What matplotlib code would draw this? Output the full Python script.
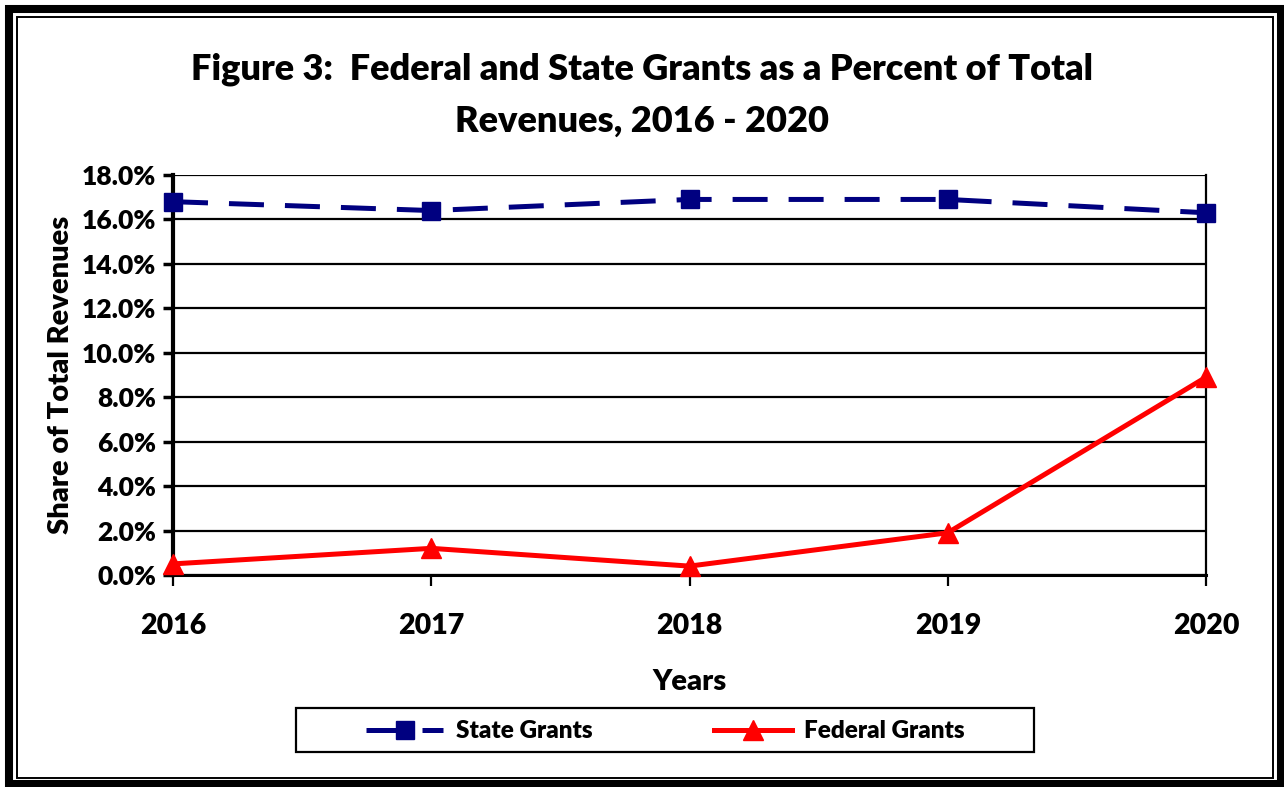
import matplotlib
matplotlib.use("Agg")
import matplotlib.pyplot as plt
from matplotlib.patches import Rectangle
from matplotlib.ticker import FuncFormatter, MultipleLocator

years = [2016, 2017, 2018, 2019, 2020]
state_grants = [16.8, 16.4, 16.9, 16.9, 16.3]
federal_grants = [0.5, 1.2, 0.4, 1.9, 8.9]
title = "Figure 3:  Federal and State Grants as a Percent of Total\nRevenues, 2016 - 2020"
xlabel = "Years"
ylabel = "Share of Total Revenues"

plt.rcParams['font.family'] = ['Lato', 'DejaVu Sans']
plt.rcParams['font.weight'] = 'bold'

W, H = 1284, 787
fig = plt.figure(figsize=(W / 100, H / 100), dpi=100)
fig.patch.set_facecolor('white')

def fx(px):
    return px / W

def fy(py):
    return 1 - py / H

ax = fig.add_axes([fx(173), fy(575), fx(1206) - fx(173), fy(175) - fy(575)])

ax.plot(years, state_grants, color='#000080', lw=3.6, dashes=(7.0, 4.2),
        marker='s', ms=13.5, label='State Grants', clip_on=False, zorder=4)
ax.plot(years, federal_grants, color='#FF0000', lw=3.6,
        marker='^', ms=15, label='Federal Grants', clip_on=False, zorder=4)

ax.set_xlim(2016, 2020)
ax.set_ylim(0, 18)
ax.yaxis.set_major_locator(MultipleLocator(2))
ax.yaxis.set_major_formatter(FuncFormatter(lambda v, p: f"{v:.1f}%"))
ax.set_xticks(years)
ax.set_xticklabels([str(y) for y in years])
ax.grid(axis='y', color='black', lw=1.6)
ax.set_axisbelow(True)

ax.spines['top'].set_visible(False)
ax.spines['right'].set_linewidth(1.6)
ax.spines['left'].set_linewidth(3.0)
ax.spines['bottom'].set_linewidth(2.2)

ax.tick_params(axis='y', direction='out', length=7, width=2.5, labelsize=19, pad=5)
ax.tick_params(axis='x', direction='out', length=8, width=1.6, labelsize=20.5, pad=19)
for lab in ax.get_xticklabels() + ax.get_yticklabels():
    lab.set_fontweight('heavy')

ax.set_xlabel(xlabel, fontsize=21, fontweight='heavy', labelpad=22)
ax.set_ylabel(ylabel, fontsize=21, fontweight='heavy', labelpad=6)

fig.text(0.5, fy(95), title, ha='center', va='center', fontsize=26,
         fontweight='heavy', linespacing=1.7)

# legend box
lx0, lx1, ly0, ly1 = 296, 1034, 708, 752
fig.patches.append(Rectangle((fx(lx0), fy(ly1)), fx(lx1) - fx(lx0), fy(ly0) - fy(ly1),
                             transform=fig.transFigure, fill=False, lw=1.6, ec='black'))
leg = ax.legend(loc='center', ncol=2,
                bbox_to_anchor=(fx((lx0 + lx1) / 2), fy((ly0 + ly1) / 2 + 1.5)),
                bbox_transform=fig.transFigure, prop={'weight': 'heavy', 'size': 17.5},
                handlelength=3.2, handletextpad=0.5, columnspacing=5.0, borderpad=0.2,
                frameon=False)

# double border
fig.patches.append(Rectangle((fx(9), fy(784)), fx(1280.5) - fx(9), fy(9) - fy(784),
                             transform=fig.transFigure, fill=False, lw=5.8, ec='black'))
fig.patches.append(Rectangle((fx(16.5), fy(778)), fx(1273) - fx(16.5), fy(16.5) - fy(778),
                             transform=fig.transFigure, fill=False, lw=1.4, ec='black'))

fig.savefig('out.png', dpi=100, facecolor='white')
